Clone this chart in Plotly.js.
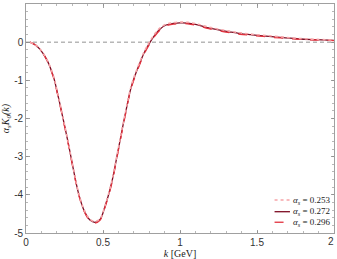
<!DOCTYPE html>
<html>
<head>
<meta charset="utf-8">
<script src="https://cdn.plot.ly/plotly-3.0.1.min.js"></script>
<style>html,body{margin:0;padding:0;background:#fff;}#chart{width:337px;height:259px;}</style>
</head>
<body>
<div id="chart"></div>
<script>
var k = [0.026, 0.06, 0.091, 0.134, 0.177, 0.209, 0.242, 0.274, 0.307, 0.339, 0.371, 0.395, 0.415, 0.447, 0.48, 0.512, 0.556, 0.598, 0.642, 0.685, 0.739, 0.772, 0.804, 0.835, 0.869, 0.91, 0.957, 1.0, 1.05, 1.1, 1.17, 1.25, 1.32, 1.39, 1.46, 1.54, 1.65, 1.76, 1.88, 2.0];
var y0253 = [0, -0.065, -0.18, -0.44, -0.87, -1.40, -2.01, -2.62, -3.30, -3.91, -4.33, -4.53, -4.64, -4.70, -4.63, -4.30, -3.66, -2.81, -1.91, -1.12, -0.52, -0.21, 0.02, 0.21, 0.37, 0.47, 0.51, 0.525, 0.52, 0.485, 0.41, 0.34, 0.29, 0.245, 0.21, 0.18, 0.14, 0.10, 0.075, 0.055];
var y0272 = [0, -0.07, -0.19, -0.45, -0.89, -1.42, -2.03, -2.64, -3.32, -3.93, -4.35, -4.55, -4.66, -4.72, -4.65, -4.32, -3.69, -2.84, -1.94, -1.15, -0.55, -0.24, -0.01, 0.18, 0.34, 0.45, 0.49, 0.505, 0.50, 0.465, 0.39, 0.32, 0.27, 0.225, 0.195, 0.165, 0.125, 0.09, 0.065, 0.045];
var y0296 = [0, -0.075, -0.20, -0.46, -0.91, -1.44, -2.05, -2.66, -3.34, -3.95, -4.37, -4.57, -4.68, -4.74, -4.67, -4.34, -3.72, -2.87, -1.97, -1.18, -0.58, -0.27, -0.04, 0.15, 0.31, 0.43, 0.47, 0.485, 0.48, 0.445, 0.37, 0.30, 0.25, 0.205, 0.18, 0.15, 0.11, 0.08, 0.057, 0.04];
var labels = ['0.253', '0.272', '0.296'];
var xTicks = [0, 0.5, 1, 1.5, 2];
var xTickText = ['0', '0.5', '1', '1.5', '2'];
var yTicks = [-5, -4, -3, -2, -1, 0, 1];
var yTickText = ['-5', '-4', '-3', '-2', '-1', '0', '1'];

var colors = ['#f6a4a8', '#7d0c22', '#e2313d'];
var dashes = ['dot', 'solid', 'dash'];
var widths = [1.6, 1.3, 1.3];
var series = [y0253, y0272, y0296];

var traces = [];
[1, 2, 0].forEach(function(i){
  traces.push({x: k, y: series[i], type: 'scatter', mode: 'lines', name: labels[i],
    line: {color: colors[i], dash: dashes[i], width: widths[i], shape: 'spline'}, showlegend: false});
});

var shapes = [{type: 'line', xref: 'paper', yref: 'y', x0: 0, x1: 1, y0: 0, y1: 0,
  line: {color: '#777', width: 0.8, dash: '4px,3px'}, layer: 'below'}];
var annotations = [];
var legY = [0.144, 0.093, 0.047];
for (var i = 0; i < 3; i++) {
  shapes.push({type: 'line', xref: 'paper', yref: 'paper', x0: 0.807, x1: 0.857, y0: legY[i], y1: legY[i],
    line: {color: colors[i], dash: dashes[i], width: widths[i]}});
  annotations.push({xref: 'paper', yref: 'paper', x: 0.862, y: legY[i], xanchor: 'left', yanchor: 'middle',
    showarrow: false, text: '<i>α<sub>s</sub></i> = ' + labels[i],
    font: {family: 'Liberation Serif, serif', size: 9, color: '#222'}});
}
// last x tick label sits at the right edge
annotations.push({xref: 'x', yref: 'paper', x: xTicks[4], y: 0, yanchor: 'top', xanchor: 'right', xshift: 2, yshift: -1,
  showarrow: false, text: xTickText[4], font: {family: 'Liberation Sans, Arial, sans-serif', size: 10, color: '#333'}});

var axisCommon = {showgrid: false, zeroline: false, showline: true, linecolor: '#888', linewidth: 0.8,
  mirror: 'ticks', ticks: 'inside', ticklen: 3.5, tickcolor: '#888', tickwidth: 0.8,
  tickfont: {family: 'Liberation Sans, Arial, sans-serif', size: 10, color: '#333'}};

var layout = {
  width: 337, height: 259,
  margin: {l: 26, r: 3, t: 4, b: 26},
  paper_bgcolor: '#fff', plot_bgcolor: '#fff',
  xaxis: Object.assign({}, axisCommon, {range: [0, 2], tickvals: xTicks.slice(0, 4), ticktext: xTickText.slice(0, 4),
    minor: {dtick: 0.1, ticks: 'inside', ticklen: 2, tickcolor: '#888', tickwidth: 0.6},
    title: {text: '<i>k</i> [GeV]', font: {family: 'Liberation Serif, serif', size: 10, color: '#222'}, standoff: 2}}),
  yaxis: Object.assign({}, axisCommon, {range: [-5, 1], tickvals: yTicks, ticktext: yTickText,
    minor: {dtick: 0.2, ticks: 'inside', ticklen: 2, tickcolor: '#888', tickwidth: 0.6},
    title: {text: '<i>α<sub>s</sub>K<sub>0</sub>(k)</i>', font: {family: 'Liberation Serif, serif', size: 10, color: '#222'}, standoff: 3}}),
  shapes: shapes,
  annotations: annotations
};
Plotly.newPlot('chart', traces, layout, {staticPlot: true, displayModeBar: false});
</script>
</body>
</html>
